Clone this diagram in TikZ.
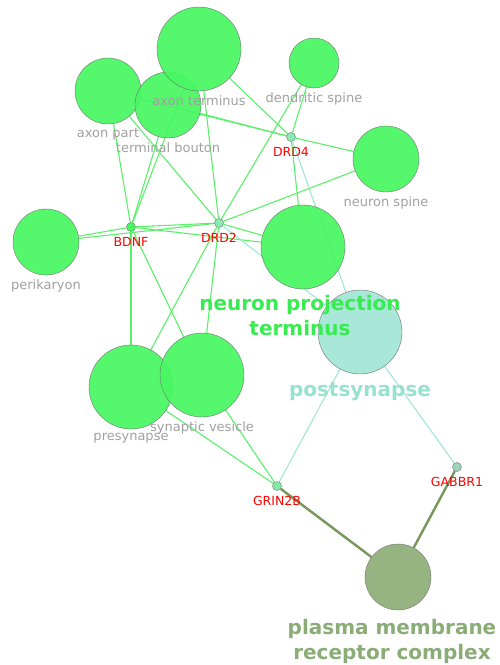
\documentclass[tikz,border=0pt]{standalone}
\usepackage{fontspec}
\setmainfont{DejaVu Sans}
\usetikzlibrary{backgrounds}
\definecolor{termgreen}{RGB}{72,246,98}
\definecolor{postteal}{RGB}{162,230,213}
\definecolor{pmolive}{RGB}{141,174,121}
\definecolor{edgegreen}{RGB}{90,240,105}
\definecolor{edgeteal}{RGB}{158,232,213}
\definecolor{edgeolive}{RGB}{118,150,92}
\definecolor{lblgray}{RGB}{160,160,160}
\definecolor{lblgreen}{RGB}{55,235,80}
\definecolor{lblteal}{RGB}{150,226,206}
\definecolor{lblolive}{RGB}{138,172,118}
\tikzset{
  term/.style={circle,draw=black!55,fill=#1,fill opacity=0.93,text opacity=1,inner sep=0pt},
  gene/.style={circle,draw=black!55,fill=#1,inner sep=0pt,minimum size=9pt},
  lbl/.style={text=lblgray,font=\fontsize{13}{13}\selectfont,inner sep=1pt,label distance=3pt},
  glbl/.style={text=red,font=\fontsize{12.5}{13}\selectfont,inner sep=1pt,label distance=4pt},
  biglbl/.style={font=\bfseries\fontsize{20}{25}\selectfont,align=center,inner sep=1pt,label distance=5pt},
  gline/.style={edgegreen,line width=1.1pt},
  tline/.style={edgeteal,line width=1.1pt},
  oline/.style={edgeolive,line width=2.4pt}
}
\begin{document}
\begin{tikzpicture}[x=1pt,y=-1pt]
\useasboundingbox (0,0) rectangle (500,665);
% terms
\node[term=termgreen,minimum size=66pt,label={[lbl]below:axon part}] (axpart) at (108,91) {};
\node[term=termgreen,minimum size=66pt,label={[lbl]below:terminal bouton}] (bouton) at (168,105) {};
\node[term=termgreen,minimum size=84pt,label={[lbl]below:axon terminus}] (axterm) at (199,49) {};
\node[term=termgreen,minimum size=50pt,label={[lbl]below:dendritic spine}] (dendr) at (314,63) {};
\node[term=termgreen,minimum size=66pt,label={[lbl]below:neuron spine}] (nspine) at (386,159) {};
\node[term=termgreen,minimum size=66pt,label={[lbl]below:perikaryon}] (peri) at (46,242) {};
\node[term=postteal,minimum size=84pt,label={[biglbl,text=lblteal,label distance=7pt]below:postsynapse}] (postsyn) at (360,332) {};
\node[term=termgreen,minimum size=84pt,label={[biglbl,text=lblgreen,xshift=-3pt]below:neuron projection\\terminus}] (npt) at (303,247) {};
\node[term=termgreen,minimum size=84pt,label={[lbl]below:presynapse}] (presyn) at (131,387) {};
\node[term=termgreen,minimum size=84pt,label={[lbl]below:synaptic vesicle}] (synves) at (202,375) {};
\node[term=pmolive,minimum size=66pt,label={[biglbl,text=lblolive,xshift=-6pt,label distance=8pt]below:plasma membrane\\receptor complex}] (pmrc) at (398,577) {};
% genes
\node[gene=postteal!70!termgreen,label={[glbl]below:DRD4}] (drd4) at (291,137) {};
\node[gene=postteal!70!termgreen,label={[glbl]below:DRD2}] (drd2) at (219,223) {};
\node[gene=termgreen,label={[glbl]below:BDNF}] (bdnf) at (131,227) {};
\node[gene=postteal!60!termgreen,label={[glbl]below:GRIN2B}] (grin) at (277,486) {};
\node[gene=postteal!70!pmolive,label={[glbl]below:GABBR1}] (gabbr) at (457,467) {};
\begin{pgfonlayer}{background}
\foreach \a/\b in {axterm/drd4,axterm/drd2,axterm/bdnf,axpart/drd4,bouton/drd4,axpart/drd2,axpart/bdnf,bouton/bdnf,dendr/drd4,dendr/drd2,nspine/drd4,nspine/drd2,drd4/npt,drd2/npt,bdnf/npt,bdnf/drd2,peri/bdnf,peri/drd2,drd2/presyn,drd2/synves,bdnf/presyn,bdnf/synves,presyn/grin,synves/grin}
  \draw[gline] (\a) -- (\b);
\foreach \a/\b in {drd4/postsyn,drd2/postsyn,grin/postsyn,gabbr/postsyn}
  \draw[tline] (\a) -- (\b);
\draw[oline] (grin) -- (pmrc);
\draw[oline] (gabbr) -- (pmrc);
\end{pgfonlayer}
\end{tikzpicture}
\end{document}
